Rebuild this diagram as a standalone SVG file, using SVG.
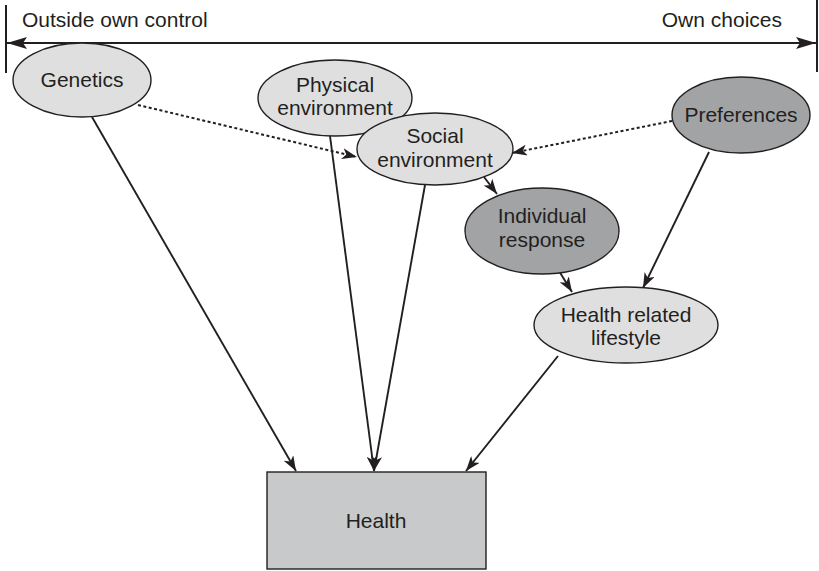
<svg xmlns="http://www.w3.org/2000/svg" width="819" height="571" viewBox="0 0 819 571">
<style>
text{font-family:"Liberation Sans",Arial,sans-serif;font-size:21px;fill:#231f20;text-anchor:middle}
.light{fill:#dfdfe0;stroke:#231f20;stroke-width:1.4}
.dark{fill:#a2a3a5;stroke:#231f20;stroke-width:1.4}
.c{stroke:#231f20;stroke-width:1.9;fill:none}
.d{stroke:#231f20;stroke-width:2;fill:none;stroke-dasharray:3,2.5}
</style>
<defs>
<marker id="ah" viewBox="0 0 15 11" refX="15" refY="5.5" markerWidth="15" markerHeight="11" markerUnits="userSpaceOnUse" orient="auto">
<path d="M0,0 L15,5.5 L0,11 L4,5.5 Z" fill="#231f20"/>
</marker>
<marker id="ahb" viewBox="0 0 20 12" refX="20" refY="6" markerWidth="20" markerHeight="12" markerUnits="userSpaceOnUse" orient="auto-start-reverse">
<path d="M0,0 L20,6 L0,12 L4,6 Z" fill="#231f20"/>
</marker>
</defs>
<g id="scale">
<line x1="6" y1="5" x2="6" y2="73" stroke="#231f20" stroke-width="2"/>
<line x1="817" y1="0" x2="817" y2="72" stroke="#231f20" stroke-width="2"/>
<line x1="7" y1="43" x2="816" y2="43" stroke="#231f20" stroke-width="2" marker-start="url(#ahb)" marker-end="url(#ahb)"/>
<text x="22" y="27" style="text-anchor:start">Outside own control</text>
<text x="782" y="27" style="text-anchor:end">Own choices</text>
</g>
<g id="connectors">
<line class="c" x1="92" y1="117" x2="296" y2="471" marker-end="url(#ah)"/>
<line class="c" x1="330" y1="136" x2="374" y2="471" marker-end="url(#ah)"/>
<line class="c" x1="425" y1="185" x2="374" y2="471" marker-end="url(#ah)"/>
<line class="c" x1="558" y1="356" x2="466" y2="471" marker-end="url(#ah)"/>
<line class="d" x1="138" y1="105" x2="357" y2="157" marker-end="url(#ah)"/>
<line class="d" x1="672" y1="121" x2="512" y2="153" marker-end="url(#ah)"/>
<line class="c" x1="484" y1="177" x2="497" y2="194" marker-end="url(#ah)"/>
<line class="c" x1="559" y1="271" x2="572" y2="292" marker-end="url(#ah)"/>
<line class="c" x1="709" y1="152" x2="643" y2="288" marker-end="url(#ah)"/>
</g>
<g id="genetics">
<ellipse class="light" cx="82" cy="80" rx="69" ry="37"/>
<text x="82" y="87">Genetics</text>
</g>
<g id="physical">
<ellipse class="light" cx="335" cy="98" rx="77" ry="38"/>
<text x="335" y="92">Physical</text>
<text x="335" y="115">environment</text>
</g>
<g id="social">
<ellipse class="light" cx="435" cy="149" rx="78" ry="36"/>
<text x="435" y="143">Social</text>
<text x="435" y="167">environment</text>
</g>
<g id="preferences">
<ellipse class="dark" cx="741" cy="115" rx="69" ry="38"/>
<text x="741" y="122">Preferences</text>
</g>
<g id="individual">
<ellipse class="dark" cx="542" cy="231" rx="77" ry="43"/>
<text x="542" y="223">Individual</text>
<text x="542" y="247">response</text>
</g>
<g id="lifestyle">
<ellipse class="light" cx="626" cy="325" rx="92" ry="38"/>
<text x="626" y="322">Health related</text>
<text x="626" y="345">lifestyle</text>
</g>
<g id="health">
<rect x="267" y="472" width="219" height="97" fill="#c8c9cb" stroke="#231f20" stroke-width="1.4"/>
<text x="376" y="528">Health</text>
</g>
</svg>
